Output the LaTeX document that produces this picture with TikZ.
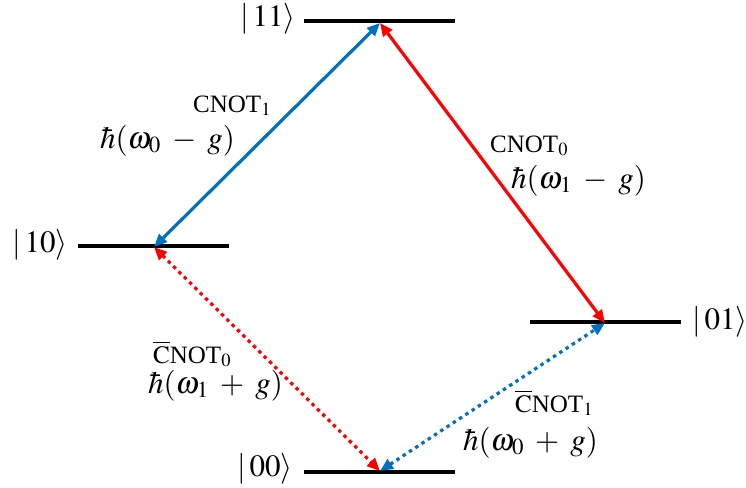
\documentclass[tikz,border=0pt]{standalone}
\usepackage{mathptmx}
\usepackage{fontspec}
\setmainfont{Liberation Serif}
\usetikzlibrary{arrows.meta}
\definecolor{qblue}{RGB}{0,112,192}
\definecolor{qred}{RGB}{255,0,0}
\begin{document}
\begin{tikzpicture}[x=1pt,y=-1pt,
  levelline/.style={line width=4pt},
  trans/.style={line width=3.2pt,{Triangle[length=13pt,width=11pt]}-{Triangle[length=13pt,width=11pt]}},
  dotline/.style={dash pattern=on 3.5pt off 4pt},
  ket/.style={font=\fontsize{31}{36}\selectfont, inner sep=0pt},
  gate/.style={font=\fontsize{25}{30}\selectfont, inner sep=0pt, anchor=base west},
  energy/.style={font=\fontsize{31}{36}\selectfont, inner sep=0pt, anchor=base west}]
\useasboundingbox (0,0) rectangle (746,487);
% level lines
\coordinate (a11) at (304,21);  \coordinate (b11) at (455,21);
\coordinate (a10) at (78,246);  \coordinate (b10) at (229,246);
\coordinate (a01) at (530,322); \coordinate (b01) at (681,322);
\coordinate (a00) at (304,472); \coordinate (b00) at (455,472);
\draw[levelline] (a11) -- (b11);
\draw[levelline] (a10) -- (b10);
\draw[levelline] (a01) -- (b01);
\draw[levelline] (a00) -- (b00);
% ket labels
\node[ket] (k11) at (268,19) {$|\,11\rangle$};
\node[ket] (k10) at (40,245) {$|\,10\rangle$};
\node[ket] (k01) at (720,322) {$|\,01\rangle$};
\node[ket] (k00) at (265,469) {$|\,00\rangle$};
% transition end points
\coordinate (p11) at (380,23);
\coordinate (p10) at (154,247);
\coordinate (p01) at (605,323);
\coordinate (p00) at (380,471);
% transitions
\draw[trans, qblue] (p10) -- (p11);
\draw[trans, qred] (p11) -- (p01);
\draw[trans, qred, dotline] (p10) -- (p00);
\draw[trans, qblue, dotline] (p00) -- (p01);
% labels
\node[gate] (g1) at (193,112) {CNOT$_1$};
\node[energy] (e1) at (100,148) {$\hbar(\omega_0\;-\;g)$};
\node[gate] (g2) at (490,152) {CNOT$_0$};
\node[energy] (e2) at (511,188) {$\hbar(\omega_1\;-\;g)$};
\node[gate] (g3) at (153,363) {$\overline{\mathrm{C}}$NOT$_0$};
\node[energy] (e3) at (148,393) {$\hbar(\omega_1\;+\;g)$};
\node[gate] (g4) at (515,412) {$\overline{\mathrm{C}}$NOT$_1$};
\node[energy] (e4) at (463,450) {$\hbar(\omega_0\;+\;g)$};
\end{tikzpicture}
\end{document}
